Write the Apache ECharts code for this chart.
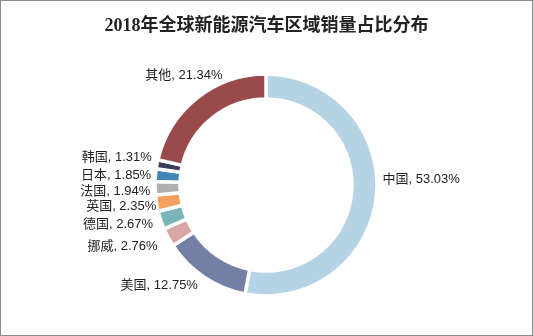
<!DOCTYPE html>
<html>
<head>
<meta charset="utf-8">
<script src="https://cdn.jsdelivr.net/npm/echarts@6/dist/echarts.min.js"></script>
<style>
html,body{margin:0;padding:0;background:#fff;}
#chart{width:531px;height:334px;border:1px solid #8c8c8c;}
</style>
</head>
<body>
<div id="chart"></div>
<script>
// 2018 global new-energy vehicle sales share by region (%)
const regions = ['中国', '美国', '挪威', '德国', '英国', '法国', '日本', '韩国', '其他'];
const shares = [53.03, 12.75, 2.76, 2.67, 2.35, 1.94, 1.85, 1.31, 21.34];
const colors = ['#b6d3e6', '#7380a6', '#d9a5a6', '#7ab6b8', '#f4a05c', '#b0b0b0', '#3f87b7', '#3a3d5a', '#9b4a4b'];

// small nudges applied to the automatically placed labels
const labelNudge = {
  0: [-3, -17], 1: [1, 5], 2: [-6, 7], 3: [-4, 1], 4: [3, -2],
  5: [-1, -2], 6: [0, -3], 7: [-1, -6], 8: [33, -19]
};

const chart = echarts.init(document.getElementById('chart'));
chart.setOption({
  animation: false,
  title: {
    text: '2018年全球新能源汽车区域销量占比分布',
    left: 'center',
    top: 11,
    textStyle: {
      fontFamily: '"Liberation Serif", "Noto Sans CJK SC", serif',
      fontSize: 18,
      fontWeight: 'bold',
      color: '#222'
    }
  },
  series: [{
    type: 'pie',
    center: [265, 184],
    radius: [86, 111],
    startAngle: 90,
    clockwise: true,
    avoidLabelOverlap: true,
    itemStyle: { borderColor: '#fff', borderWidth: 3.5 },
    label: {
      show: true,
      position: 'outside',
      formatter: p => p.name + ', ' + p.value.toFixed(2) + '%',
      fontFamily: '"Liberation Sans", "Noto Sans CJK SC", sans-serif',
      fontSize: 13,
      color: '#222'
    },
    labelLine: { show: false, length: 4, length2: 0 },
    labelLayout: p => {
      const n = labelNudge[p.dataIndex] || [0, 0];
      return { dx: n[0], dy: n[1] };
    },
    data: regions.map((n, i) => ({ name: n, value: shares[i], itemStyle: { color: colors[i] } }))
  }]
});
</script>
</body>
</html>
